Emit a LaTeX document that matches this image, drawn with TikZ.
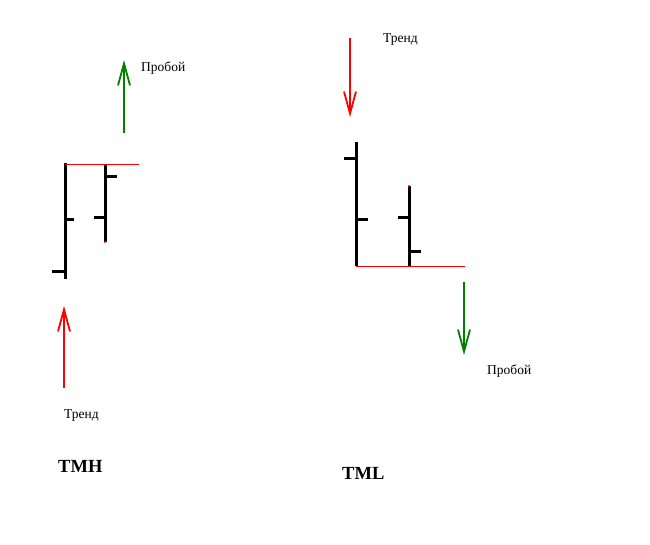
\documentclass[tikz,border=0pt]{standalone}
\usepackage{fontspec}
\setmainfont{Liberation Serif}
\usetikzlibrary{arrows.meta}
\definecolor{pgreen}{RGB}{0,128,0}
\definecolor{pred}{RGB}{255,0,0}
\tikzset{
  bar/.style={line width=3pt,black},
  tick/.style={line width=3pt,black},
  level/.style={line width=1pt,pred},
  arr/.style={line width=2pt,-{Straight Barb[length=22pt,width=12pt,line width=1.8pt]}},
  lbl/.style={font=\fontsize{13.5}{15}\selectfont,inner sep=0pt,anchor=west},
  ttl/.style={font=\fontsize{18.5}{20}\selectfont\bfseries,inner sep=0pt,anchor=west}
}
\begin{document}
\begin{tikzpicture}[x=1pt,y=-1pt]
\useasboundingbox[fill=white] (0,0) rectangle (650,545);
% ---- TMH ----
\coordinate (g1s) at (124,133);
\coordinate (g1e) at (124,60);
\draw[arr,pgreen] (g1s) -- (g1e);
\node[lbl] (p1) at (141,68) {Пробой};
\coordinate (a1t) at (65,163);
\coordinate (a1b) at (65,279);
\draw[bar] (a1t) -- (a1b);
\coordinate (a1l) at (52,271);
\coordinate (a1r) at (74,220);
\draw[tick] (a1l) -- (a1l -| a1t);
\draw[tick] (a1r -| a1t) -- (a1r);
\coordinate (b1t) at (105,165);
\coordinate (b1b) at (105,242);
\draw[bar] (b1t) -- (b1b);
\coordinate (b1l) at (94,218);
\coordinate (b1r) at (117,177);
\draw[tick] (b1l) -- (b1l -| b1t);
\draw[tick] (b1r -| b1t) -- (b1r);
\coordinate (h1e) at (139,165);
\draw[level] (a1t |- h1e) -- (h1e);
\fill[pred] (105,242) circle (1.2pt);
\coordinate (r1s) at (64,388);
\coordinate (r1e) at (64,306);
\draw[arr,pred] (r1s) -- (r1e);
\node[lbl] (t1) at (64,416) {Тренд};
\node[ttl] (n1) at (58,466) {TMH};
% ---- TML ----
\coordinate (r2s) at (350,38);
\coordinate (r2e) at (350,117);
\draw[arr,pred] (r2s) -- (r2e);
\node[lbl] (t2) at (383,40) {Тренд};
\coordinate (a2t) at (356,142);
\coordinate (a2b) at (356,266);
\draw[bar] (a2t) -- (a2b);
\coordinate (a2l) at (344,159);
\coordinate (a2r) at (368,220);
\draw[tick] (a2l) -- (a2l -| a2t);
\draw[tick] (a2r -| a2t) -- (a2r);
\coordinate (b2t) at (409,186);
\coordinate (b2b) at (409,267);
\draw[bar] (b2t) -- (b2b);
\coordinate (b2l) at (398,218);
\coordinate (b2r) at (421,252);
\draw[tick] (b2l) -- (b2l -| b2t);
\draw[tick] (b2r -| b2t) -- (b2r);
\coordinate (h2e) at (465,266);
\draw[level] (a2b) -- (h2e);
\fill[pred] (409,186) circle (1.2pt);
\coordinate (g2s) at (464,282);
\coordinate (g2e) at (464,355);
\draw[arr,pgreen] (g2s) -- (g2e);
\node[lbl] (p2) at (487,371) {Пробой};
\node[ttl] (n2) at (342,473) {TML};
\end{tikzpicture}
\end{document}
